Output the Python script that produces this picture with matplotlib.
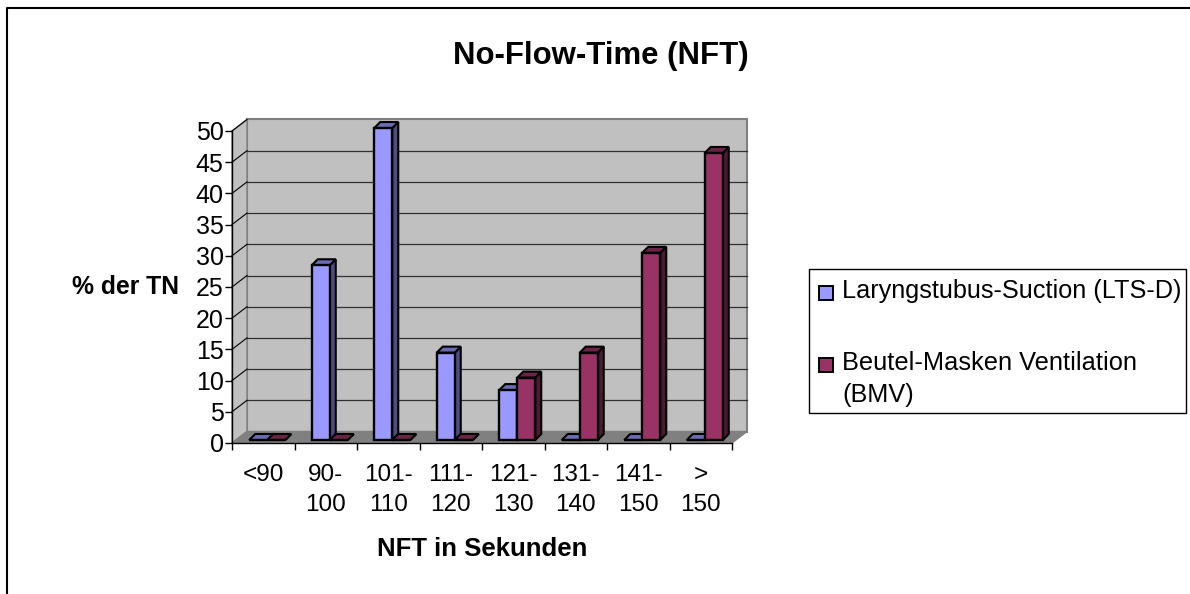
import matplotlib
matplotlib.use("Agg")
import matplotlib.pyplot as plt
from matplotlib.patches import Polygon, Rectangle

categories = ["<90", "90-\n100", "101-\n110", "111-\n120", "121-\n130", "131-\n140", "141-\n150", ">\n150"]
lts_values = [0, 28, 50, 14, 8, 0, 0, 0]
bmv_values = [0, 0, 0, 0, 10, 14, 30, 46]
y_ticks = list(range(0, 55, 5))

W, H = 1190, 594
plt.rcParams["font.family"] = ["Liberation Sans", "DejaVu Sans"]

LTS_COLORS = ("#9999ff", "#4d4d80", "#6b6bb3")
BMV_COLORS = ("#993366", "#4d1a33", "#6b2447")


def fx(px):
    return px / W


def fy(py):
    return 1 - py / H


fig = plt.figure(figsize=(W / 100, H / 100), dpi=100)
ax = fig.add_axes([fx(232), fy(443), (732 - 232) / W, (443 - 131) / H])
ax.set_xlim(0, 8)
ax.set_ylim(0, 50)
ax.set_facecolor("none")
for s in ax.spines.values():
    s.set_visible(False)

# Tiefe der 3D-Darstellung in Datenkoordinaten
ux = 8 / 500
uy = 50 / 312
wall_dx, wall_dy = 15 * ux, 11.5 * uy
bar_dx, bar_dy = 6 * ux, 6 * uy
base_dx, base_dy = 4 * ux, 3 * uy
bar_w = 18 * ux


def poly(points, fc, ec="black", lw=1.0, z=1):
    ax.add_patch(Polygon(points, closed=True, facecolor=fc, edgecolor=ec, linewidth=lw,
                         zorder=z, clip_on=False, joinstyle="miter"))


# Wand, Seitenwand, Boden
poly([(wall_dx, wall_dy), (8 + wall_dx, wall_dy), (8 + wall_dx, 50 + wall_dy), (wall_dx, 50 + wall_dy)],
     "#c0c0c0", "#808080", 1.5)
poly([(0, 0), (wall_dx, wall_dy), (wall_dx, 50 + wall_dy), (0, 50)], "#c0c0c0", "#808080", 1.0)
poly([(0, 0), (8, 0), (8 + wall_dx, wall_dy), (wall_dx, wall_dy)], "#808080", "#808080", 1.0)
ax.plot([0, 0], [0, 50], color="black", lw=1.0, zorder=2, clip_on=False)
ax.plot([0, 8], [0, 0], color="black", lw=1.0, zorder=2, clip_on=False)

for v in y_ticks[1:]:
    if v < 50:
        ax.plot([wall_dx, 8 + wall_dx], [v + wall_dy, v + wall_dy], color="#303030", lw=0.9, zorder=1.5,
                clip_on=False)
    ax.plot([0, wall_dx], [v, v + wall_dy], color="black", lw=0.8, zorder=1.5, clip_on=False)


def draw_bars(values, offset, colors, z):
    xs = [i + 0.5 + base_dx + offset for i in range(len(values))]
    for x, v in zip(xs, values):
        top = v + base_dy
        poly([(x + bar_w, base_dy), (x + bar_w + bar_dx, base_dy + bar_dy),
              (x + bar_w + bar_dx, top + bar_dy), (x + bar_w, top)], colors[1], lw=1.5, z=z)
        poly([(x, top), (x + bar_dx, top + bar_dy), (x + bar_w + bar_dx, top + bar_dy), (x + bar_w, top)],
             colors[2], lw=1.5, z=z)
    ax.bar(xs, values, width=bar_w, bottom=base_dy, align="edge", color=colors[0], edgecolor="black",
           linewidth=1.7, zorder=z + 0.1, clip_on=False)


draw_bars(lts_values, -bar_w, LTS_COLORS, 3)
draw_bars(bmv_values, 0, BMV_COLORS, 4)

ax.set_xticks(range(9))
ax.set_xticklabels([])
ax.set_xticks([i + 0.5 for i in range(8)], minor=True)
ax.set_xticklabels(categories, minor=True, fontsize=17.5, linespacing=1.5)
ax.tick_params(axis="x", which="major", length=5, width=1, direction="out", pad=2)
ax.tick_params(axis="x", which="minor", length=0, pad=15)
ax.set_yticks(y_ticks)
ax.tick_params(axis="y", length=5, width=1, labelsize=18, pad=1)
for lab in ax.get_yticklabels():
    lab.set_va("center_baseline")

fig.text(fx(601), fy(56), "No-Flow-Time (NFT)", fontsize=22.4, fontweight="bold", ha="center", va="center")
fig.text(fx(126), fy(287), "% der TN", fontsize=17.8, fontweight="bold", ha="center", va="center")
fig.text(fx(482), fy(549), "NFT in Sekunden", fontsize=18.5, fontweight="bold", ha="center", va="center")

# Rahmen und Legende
fig.add_artist(plt.Line2D([fx(7), fx(7), fx(1190)], [fy(594), fy(8), fy(8)], color="black", lw=1.5))
fig.add_artist(Rectangle((fx(809), fy(413)), (1186 - 809) / W, (413 - 269) / H, transform=fig.transFigure,
                         facecolor="white", edgecolor="black", linewidth=1.0))
for py, c in [(292.5, LTS_COLORS[0]), (365, BMV_COLORS[0])]:
    fig.add_artist(Rectangle((fx(819), fy(py + 7)), 14 / W, 14 / H, transform=fig.transFigure,
                             facecolor=c, edgecolor="black", linewidth=1.4))
fig.text(fx(842), fy(291), "Laryngstubus-Suction (LTS-D)", fontsize=18.2, va="center")
fig.text(fx(842), fy(363), "Beutel-Masken Ventilation", fontsize=18.3, va="center")
fig.text(fx(842), fy(395), "(BMV)", fontsize=18.2, va="center")

fig.savefig("out.png", dpi=100)
